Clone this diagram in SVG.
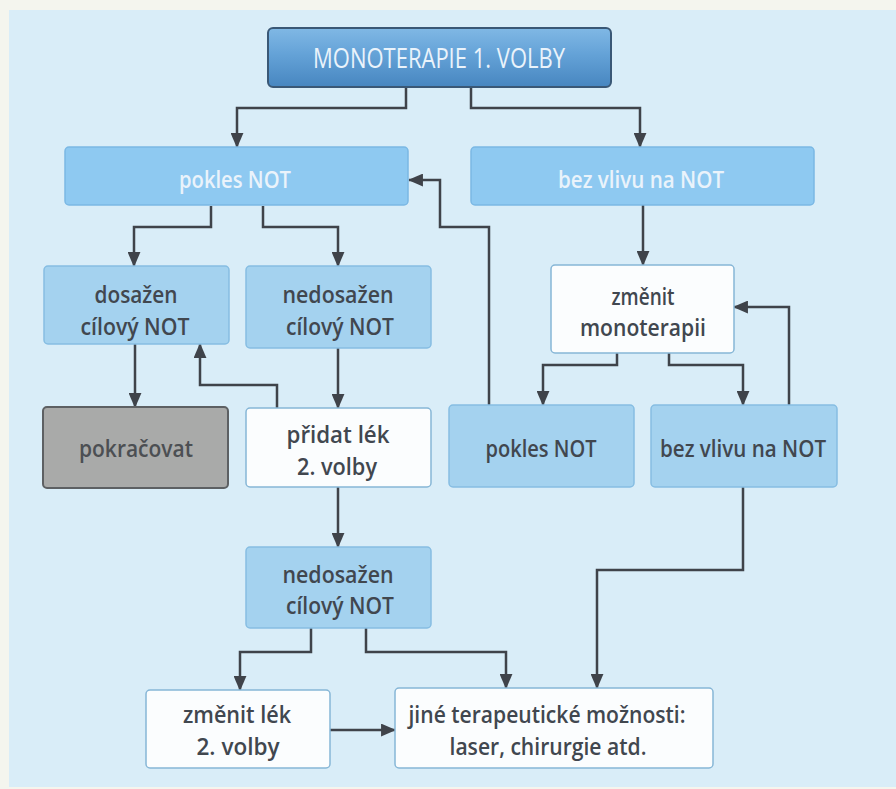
<svg xmlns="http://www.w3.org/2000/svg" width="896" height="789" viewBox="0 0 896 789">
<defs>
<linearGradient id="gTop" x1="0" y1="0" x2="0" y2="1">
<stop offset="0" stop-color="#80b8e5"/>
<stop offset="0.45" stop-color="#64a2d7"/>
<stop offset="1" stop-color="#4786c0"/>
</linearGradient>
<marker id="arr" viewBox="0 0 14 12" refX="13" refY="6" markerWidth="15" markerHeight="13" markerUnits="userSpaceOnUse" orient="auto">
<path d="M0,0 L14,6 L0,12 z" fill="#3f434a"/>
</marker>
<style>
.t{font-family:"Open Sans","Liberation Sans",sans-serif;font-weight:600;font-size:24px;text-anchor:middle;fill:#41474f}
.w{fill:#eaf3fb}
.blue{fill:#a4d2ef;stroke:#86bde2;stroke-width:1.5}
.bright{fill:#8ec9f1;stroke:#7bb8e4;stroke-width:1.5}
.white{fill:#fbfdfe;stroke:#86b6d6;stroke-width:1.5}
.gray{fill:#a9aaa9;stroke:#5d6063;stroke-width:2}
.c{fill:none;stroke:#3f434a;stroke-width:2.5;marker-end:url(#arr)}
</style>
</defs>
<rect x="0" y="0" width="896" height="789" fill="#f4f5ee"/>
<rect x="9" y="10" width="887" height="777" fill="#d9edf8"/>

<g id="connectors">
<path class="c" d="M406,87 V108 H237 V147"/>
<path class="c" d="M471,87 V108 H640 V147"/>
<path class="c" d="M211,206 V227 H134 V266"/>
<path class="c" d="M263,206 V227 H338 V266"/>
<path class="c" d="M643,205 V265"/>
<path class="c" d="M489,405 V227 H440 V180 H409"/>
<path class="c" d="M135,344 V407"/>
<path class="c" d="M338,348 V408"/>
<path class="c" d="M277,408 V385 H200 V344"/>
<path class="c" d="M617,353 V365 H543 V405"/>
<path class="c" d="M669,353 V365 H743 V405"/>
<path class="c" d="M789,405 V307 H734"/>
<path class="c" d="M338,487 V547"/>
<path class="c" d="M743,487 V570 H597 V688"/>
<path class="c" d="M311,628 V652 H240 V690"/>
<path class="c" d="M366,628 V652 H506 V688"/>
<path class="c" d="M330,730 H395"/>
</g>

<g id="monoterapie">
<rect x="268" y="28" width="343" height="59" rx="5" fill="url(#gTop)" stroke="#3a5876" stroke-width="2"/>
<text class="t w" x="439" y="68" font-size="27" style="font-size:27px;font-weight:400" textLength="252" lengthAdjust="spacingAndGlyphs">MONOTERAPIE 1. VOLBY</text>
</g>

<g id="pokles1">
<rect class="bright" x="65" y="147" width="343" height="58" rx="4"/>
<text class="t w" x="235" y="188" textLength="112" lengthAdjust="spacingAndGlyphs">pokles NOT</text>
</g>

<g id="bezvlivu1">
<rect class="bright" x="471" y="147" width="343" height="58" rx="4"/>
<text class="t w" x="641" y="188" textLength="166" lengthAdjust="spacingAndGlyphs">bez vlivu na NOT</text>
</g>

<g id="dosazen">
<rect class="blue" x="44" y="266" width="185" height="78" rx="4"/>
<text class="t" x="136" y="303" textLength="83" lengthAdjust="spacingAndGlyphs">dosažen</text>
<text class="t" x="135" y="335" textLength="109" lengthAdjust="spacingAndGlyphs">cílový NOT</text>
</g>

<g id="nedosazen1">
<rect class="blue" x="246" y="266" width="185" height="82" rx="4"/>
<text class="t" x="338" y="303" textLength="111" lengthAdjust="spacingAndGlyphs">nedosažen</text>
<text class="t" x="340" y="335" textLength="108" lengthAdjust="spacingAndGlyphs">cílový NOT</text>
</g>

<g id="zmenitMono">
<rect class="white" x="551" y="265" width="183" height="88" rx="4"/>
<text class="t" x="643" y="305" textLength="63" lengthAdjust="spacingAndGlyphs">změnit</text>
<text class="t" x="643" y="336" textLength="126" lengthAdjust="spacingAndGlyphs">monoterapii</text>
</g>

<g id="pokracovat">
<rect class="gray" x="43" y="407" width="185" height="81" rx="4"/>
<text class="t" x="136" y="457" style="fill:#4c4f53" textLength="114" lengthAdjust="spacingAndGlyphs">pokračovat</text>
</g>

<g id="pridat">
<rect class="white" x="246" y="408" width="185" height="79" rx="4"/>
<text class="t" x="338" y="443" textLength="103" lengthAdjust="spacingAndGlyphs">přidat lék</text>
<text class="t" x="337" y="475" textLength="80" lengthAdjust="spacingAndGlyphs">2. volby</text>
</g>

<g id="pokles2">
<rect class="blue" x="449" y="405" width="185" height="82" rx="4"/>
<text class="t" x="541" y="457" textLength="111" lengthAdjust="spacingAndGlyphs">pokles NOT</text>
</g>

<g id="bezvlivu2">
<rect class="blue" x="651" y="405" width="186" height="82" rx="4"/>
<text class="t" x="743" y="457" textLength="166" lengthAdjust="spacingAndGlyphs">bez vlivu na NOT</text>
</g>

<g id="nedosazen2">
<rect class="blue" x="246" y="547" width="185" height="81" rx="4"/>
<text class="t" x="338" y="583" textLength="111" lengthAdjust="spacingAndGlyphs">nedosažen</text>
<text class="t" x="340" y="614" textLength="108" lengthAdjust="spacingAndGlyphs">cílový NOT</text>
</g>

<g id="zmenitLek">
<rect class="white" x="146" y="690" width="184" height="78" rx="4"/>
<text class="t" x="237" y="723" textLength="108" lengthAdjust="spacingAndGlyphs">změnit lék</text>
<text class="t" x="238" y="755" textLength="83" lengthAdjust="spacingAndGlyphs">2. volby</text>
</g>

<g id="jine">
<rect class="white" x="395" y="688" width="318" height="80" rx="4"/>
<text class="t" x="547" y="723" textLength="277" lengthAdjust="spacingAndGlyphs">jiné terapeutické možnosti:</text>
<text class="t" x="548" y="755" textLength="197" lengthAdjust="spacingAndGlyphs">laser, chirurgie atd.</text>
</g>
</svg>
